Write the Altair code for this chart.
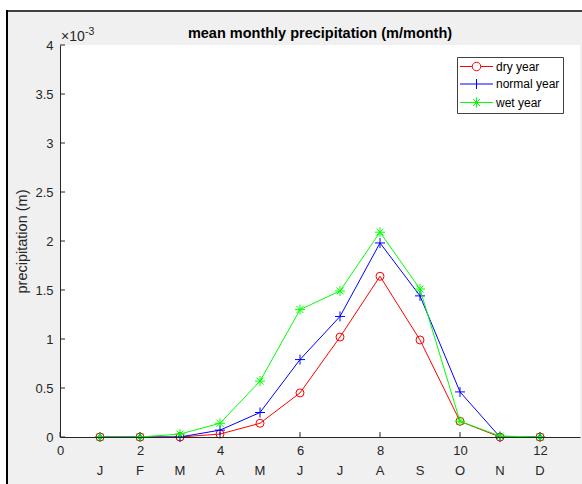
import altair as alt
import pandas as pd

# ---------------- data ----------------
months = list(range(1, 13))
month_letters = ["J", "F", "M", "A", "M", "J", "J", "A", "S", "O", "N", "D"]
series_names = ["dry year", "normal year", "wet year"]
dry = [0.0, 0.0, 0.0, 0.00003, 0.00014, 0.00045, 0.00102, 0.00164, 0.00099, 0.00016, 0.0, 0.0]
normal = [0.0, 0.0, 0.0, 0.00007, 0.00025, 0.00079, 0.00123, 0.00198, 0.00144, 0.00046, 0.0, 0.0]
wet = [0.0, 0.0, 0.00003, 0.00014, 0.00057, 0.00130, 0.00149, 0.00209, 0.00151, 0.00016, 0.00001, 0.0]
x_ticks = [0, 2, 4, 6, 8, 10, 12]
y_ticks = [0, 0.5, 1, 1.5, 2, 2.5, 3, 3.5, 4]  # in units of 1e-3 m
title_text = "mean monthly precipitation (m/month)"

# ---------------- styles ----------------
colors = ["#ff0000", "#0000ff", "#00ff00"]
marker_shapes = [
    "circle",
    "M-1,0H1M0,-1V1",
    "M-1,0H1M0,-1V1M-0.7,-0.7L0.7,0.7M-0.7,0.7L0.7,-0.7",
]
marker_sizes = [64, 100, 100]
legend_shapes = [
    "M-1.083,0H0.958M2.375,0H4.417M0.958,0A0.708,0.708,0,1,1,2.375,0A0.708,0.708,0,1,1,0.958,0",
    "M-1.083,0H4.417M1.667,-0.833V0.833",
    "M-1.083,0H4.417M1.667,-0.833V0.833M1.077,-0.59L2.257,0.59M1.077,0.59L2.257,-0.59",
]
FONT = "Liberation Sans"
AX = "#262626"
W, H = 520, 392

rows = []
for name, vals in zip(series_names, [dry, normal, wet]):
    for m, v in zip(months, vals):
        rows.append({"month": m, "series": name, "precip": v})
df = pd.DataFrame(rows)
months_df = pd.DataFrame({"month": months, "letter": month_letters})
xt_df = pd.DataFrame({"t": x_ticks})
yt_df = pd.DataFrame({"t": y_ticks})
one = pd.DataFrame({"a": [1]})

xscale = alt.Scale(domain=[0, 13], nice=False, zero=False)
yscale = alt.Scale(domain=[0, 4], nice=False)

x_axis = alt.Axis(values=x_ticks, ticks=False, grid=False, labelPadding=7, format="~g",
                  labelFlush=False, domainColor=AX, labelColor=AX, labelFont=FONT,
                  labelFontSize=13, title=None, zindex=1)
y_axis = alt.Axis(values=y_ticks, ticks=False, grid=False, labelPadding=7, format="~g",
                  labelFlush=False, domainColor=AX, labelColor=AX, labelFont=FONT,
                  labelFontSize=13, title="precipitation (m)", titleFont=FONT,
                  titleFontSize=14.5, titleFontWeight="normal", titleColor=AX,
                  titlePadding=5, zindex=1)

layers = []

# window decoration (figure border) and white plot area
deco = alt.Chart(one)
layers.append(deco.mark_rect(color="white").encode(
    x=alt.value(0), x2=alt.value(W), y=alt.value(0), y2=alt.value(H)))
layers.append(deco.mark_rect(color="white").encode(
    x=alt.value(-60), x2=alt.value(W + 2), y=alt.value(-45), y2=alt.value(-35)))
layers.append(deco.mark_rect(color="white").encode(
    x=alt.value(-60), x2=alt.value(-54), y=alt.value(-45), y2=alt.value(H + 47)))
layers.append(deco.mark_rule(color="#404040", strokeWidth=2).encode(
    x=alt.value(-54), x2=alt.value(W + 2), y=alt.value(-34)))
layers.append(deco.mark_rule(color="#000000", strokeWidth=2).encode(
    x=alt.value(-53), y=alt.value(-35), y2=alt.value(H + 47)))

# axes carrier + inner ticks
layers.append(alt.Chart(xt_df).mark_rule(color=AX, strokeWidth=1).encode(
    x=alt.X("t:Q", scale=xscale, axis=x_axis),
    y=alt.value(H), y2=alt.value(H - 5)))
layers.append(alt.Chart(yt_df).mark_rule(color=AX, strokeWidth=1).encode(
    y=alt.Y("t:Q", scale=yscale, axis=y_axis),
    x=alt.value(0), x2=alt.value(5)))

base = alt.Chart(df).transform_calculate(y="datum.precip * 1000")
for name, c, shp, sz in zip(series_names, colors, marker_shapes, marker_sizes):
    sub = base.transform_filter(alt.datum.series == name)
    layers.append(sub.mark_line(color=c, strokeWidth=1).encode(
        x=alt.X("month:Q", scale=xscale),
        y=alt.Y("y:Q", scale=yscale)))
    layers.append(sub.mark_point(color=c, shape=shp, size=sz, filled=False,
                                 strokeWidth=1, opacity=1).encode(
        x=alt.X("month:Q", scale=xscale),
        y=alt.Y("y:Q", scale=yscale)))

# legend carrier (no visible marks)
leg = alt.Legend(title=None, orient="none", legendX=397, legendY=12, fillColor="white",
                 strokeColor="#404040", padding=3, symbolSize=144, symbolStrokeWidth=1,
                 symbolOpacity=1, labelFont=FONT, labelFontSize=12, labelColor="#000000",
                 labelOffset=23, rowPadding=3.5)
layers.append(base.transform_filter("false").mark_point(filled=False, opacity=1, strokeWidth=1).encode(
    color=alt.Color("series:N", scale=alt.Scale(domain=series_names, range=colors), legend=leg),
    shape=alt.Shape("series:N", scale=alt.Scale(domain=series_names, range=legend_shapes), legend=leg)))

# month letters
layers.append(alt.Chart(months_df).mark_text(font=FONT, fontSize=13, color=AX, baseline="middle").encode(
    x=alt.X("month:Q", scale=xscale), y=alt.value(H + 34), text="letter:N"))

# title and exponent label
layers.append(deco.mark_text(text=title_text, font=FONT, fontSize=14.5, fontWeight="bold",
                             color="#000000", align="center", baseline="middle").encode(
    x=alt.value(W / 2), y=alt.value(-11)))
layers.append(deco.mark_text(text="\u00d710", font=FONT, fontSize=14, color=AX,
                             align="left", baseline="middle").encode(x=alt.value(1), y=alt.value(-8)))
layers.append(deco.mark_text(text="-3", font=FONT, fontSize=10.5, color=AX,
                             align="left", baseline="middle").encode(x=alt.value(25), y=alt.value(-13)))

chart = alt.layer(*layers).properties(
    width=W, height=H,
    autosize=alt.AutoSizeParams(type="none"),
    padding={"left": 60, "top": 45, "right": 2, "bottom": 47},
).configure(background="#f0f0f0").configure_view(fill="white", stroke=None)

chart.save("out.html", embed_options={"renderer": "svg", "actions": False})
